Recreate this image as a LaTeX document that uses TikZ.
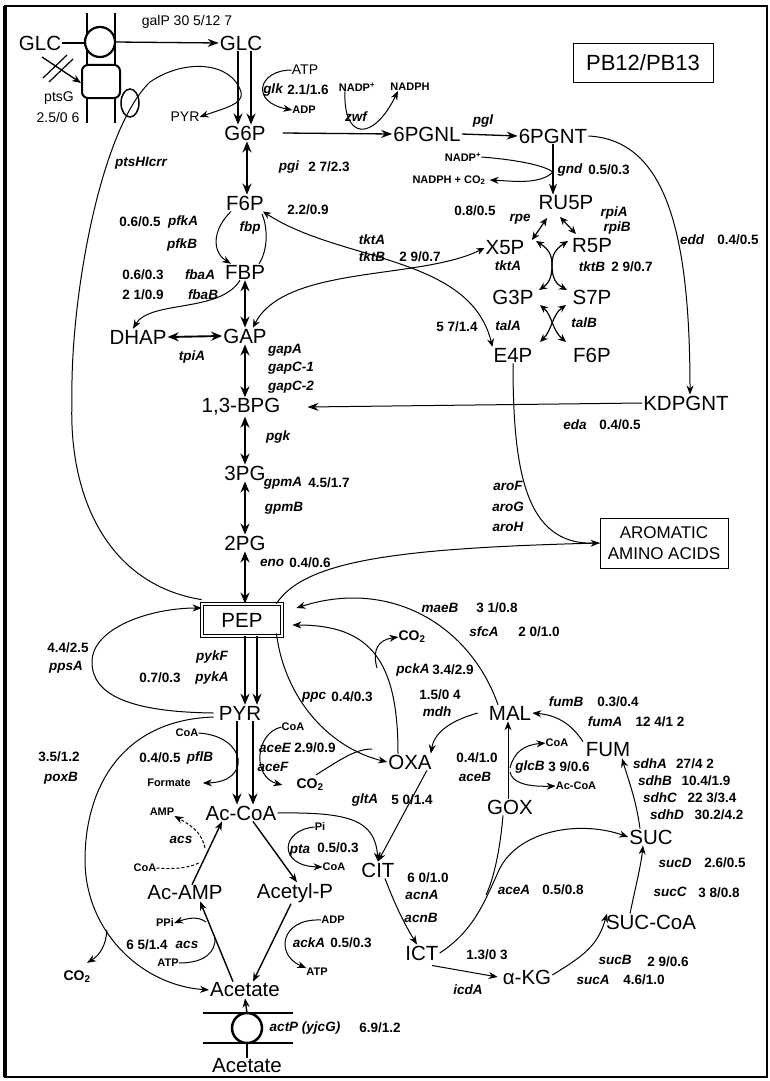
\documentclass[tikz,border=0pt]{standalone}
\usepackage{fontspec}
\setmainfont{Liberation Sans}
\usetikzlibrary{arrows.meta}
\begin{document}
\begin{tikzpicture}[x=1pt,y=-1pt,
 met/.style={font=\fontsize{20.5}{22}\selectfont, inner sep=1pt},
 reg/.style={font=\fontsize{14}{15}\selectfont, inner sep=0pt},
 gn/.style={font=\fontsize{13.5}{15}\selectfont\bfseries\itshape, inner sep=0pt},
 nm/.style={font=\fontsize{13.5}{15}\selectfont\bfseries, inner sep=0pt},
 sm/.style={font=\fontsize{11}{12}\selectfont\bfseries, inner sep=0pt},
 co/.style={font=\fontsize{14}{15}\selectfont\bfseries, inner sep=0pt},
 ar/.style={line width=1.9pt, -{Stealth[length=11pt,width=9pt]}},
 am/.style={line width=1.3pt, -{Stealth[length=11pt,width=8pt]}},
 dar/.style={line width=1.9pt, {Stealth[length=11pt,width=9pt]}-{Stealth[length=11pt,width=9pt]}},
 dsm/.style={line width=1.2pt, {Stealth[length=8pt,width=7pt]}-{Stealth[length=8pt,width=7pt]}},
 tn/.style={line width=1pt, -{Stealth[length=9pt,width=7pt]}},
 ln/.style={line width=1pt},
]
\useasboundingbox (0,0) rectangle (770,1081);
% frame
\draw[line width=1.5pt] (5,6) rectangle (767,1077);
\draw[line width=4pt] (5,6) -- (5,1077);

% ---------- metabolites ----------
\node[met] (glcout) at (40,43) {GLC};
\node[met] (glcin) at (241,43) {GLC};
\node[met] (g6p) at (245,133) {G6P};
\node[met] (pgnl) at (427,134) {6PGNL};
\node[met] (pgnt) at (553,136) {6PGNT};
\node[met] (f6p) at (245,203) {F6P};
\node[met] (ru5p) at (566,203) {RU5P};
\node[met] (x5p) at (505,248) {X5P};
\node[met] (r5p) at (592,246) {R5P};
\node[met] (g3p) at (513,297) {G3P};
\node[met] (s7p) at (592,297) {S7P};
\node[met] (e4p) at (513,355) {E4P};
\node[met] (f6pb) at (592,355) {F6P};
\node[met] (fbp) at (245,272) {FBP};
\node[met] (dhap) at (138,337) {DHAP};
\node[met] (gap) at (245,336) {GAP};
\node[met] (bpg) at (241,407) {1,3-BPG};
\node[met] (kdpgnt) at (686,403) {KDPGNT};
\node[met] (pg3) at (245,473) {3PG};
\node[met] (pg2) at (245,543) {2PG};
\node[met, draw, double, double distance=2pt, line width=0.8pt, minimum width=80pt, minimum height=32pt] (pep) at (242,620) {PEP};
\node[met] (pyr) at (240,713) {PYR};
\node[met] (accoa) at (241,813) {Ac-CoA};
\node[met] (acamp) at (185,893) {Ac-AMP};
\node[met] (acetylp) at (295,893) {Acetyl-P};
\node[met] (acetate) at (245,990) {Acetate};
\node[met] (acetate2) at (247,1066) {Acetate};
\node[met] (oxa) at (410,762) {OXA};
\node[met] (mal) at (510,713) {MAL};
\node[met] (fum) at (608,750) {FUM};
\node[met] (gox) at (510,807) {GOX};
\node[met] (cit) at (378,870) {CIT};
\node[met] (ict) at (422,953) {ICT};
\node[met] (akg) at (527,977) {α-KG};
\node[met] (succoa) at (651,922) {SUC-CoA};
\node[met] (suc) at (651,837) {SUC};
\node[reg] (pyrs) at (185,117) {PYR};
\node[draw, line width=0.8pt, font=\fontsize{22}{24}\selectfont, minimum width=140pt, minimum height=39pt, inner sep=2pt] (pb) at (643,63) {PB12/PB13};
\node[draw, line width=0.8pt, font=\fontsize{17}{21}\selectfont, align=center, minimum width=128pt, minimum height=50pt, inner sep=2pt] (arom) at (664,543) {AROMATIC\\AMINO ACIDS};

% ---------- GLC transport ----------
\draw[line width=2pt] (87,13) -- (87,123);
\draw[line width=2pt] (115,13) -- (115,123);
\draw[line width=2.2pt, fill=white] (100,42) circle (15);
\draw[line width=2pt, fill=white, rounded corners=6pt] (82,65) rectangle (120,98);
\draw[line width=1.5pt, fill=white] (130,103) ellipse (9 and 14);
\draw[line width=1.5pt] (glcout.east) -- (85,43);
\draw[am] (115,42) -- (glcin.west);
\coordinate (hatchs) at (42,57);
\draw[tn, line width=1.3pt] (hatchs) -- (81,83);
\draw[line width=1.2pt] (43,78) -- (67,55);
\draw[line width=1.2pt] (49,82) -- (73,59);
\node[reg] (galp) at (187,22) {galP 30 5/12 7};
\node[reg] (ptsg) at (59,98) {ptsG};
\node[reg] (ptsgn) at (58,117) {2.5/0 6};

% GLC -> G6P
\draw[ar] ([xshift=-3pt]glcin.south) -- ([xshift=-7pt]g6p.north);
\draw[ar] ([xshift=10pt]glcin.south) -- ([xshift=6pt]g6p.north);
% glk
\node[reg] (atp1) at (305,70) {ATP};
\node[sm] (adp1) at (304,110) {ADP};
\node[gn] (glk) at (273,90) {glk};
\node[nm] (glkn) at (308,90) {2.1/1.6};
\draw[tn] (atp1.west) .. controls (258,70) and (250,102) .. (adp1.west);
% ptsHIcrr
\draw[tn] ([yshift=4pt]pep.north west) .. controls (110,585) and (68,500) .. (72,400)
  .. controls (70,300) and (100,130) .. (150,82)
  .. controls (185,58) and (232,62) .. (241,92)
  .. controls (244,104) and (225,108) .. (pyrs.east);
\node[gn] (ptsh) at (141,163) {ptsHIcrr};

% G6P -> 6PGNL
\draw[am] ([xshift=16pt]g6p.east) -- (pgnl.west);
\node[sm] (nadp1) at (357,87) {NADP\textsuperscript{+}};
\node[sm] (nadph1) at (410,87) {NADPH};
\node[gn] (zwf) at (356,117) {zwf};
\draw[tn] ([xshift=-12pt]nadp1.south) .. controls (343,140) and (373,142) .. ([xshift=-12pt]nadph1.south);
% pgl
\draw[am] (pgnl.east) -- (pgnt.west);
\node[gn] (pgl) at (483,121) {pgl};
% gnd
\node[sm] (nadp2) at (463,157) {NADP\textsuperscript{+}};
\node[sm] (nadph2) at (449,180) {NADPH + CO\textsubscript{2}};
\draw[am] (pgnt.south) -- (pgnt.south |- ru5p.north);
\coordinate (gndj) at (553,172);
\draw[ln] (nadp2.east) .. controls (520,160) and (545,166) .. (gndj);
\draw[tn] (gndj) .. controls (540,185) and (512,181) .. ([xshift=4pt]nadph2.east);
\node[gn] (gnd) at (570,170) {gnd};
\node[nm] (gndn) at (609,170) {0.5/0.3};
% pgi
\draw[dar] ([xshift=2pt]g6p.south) -- ([xshift=2pt]f6p.north);
\node[gn] (pgi) at (289,167) {pgi};
\node[nm] (pgin) at (329,167) {2 7/2.3};

% RU5P branches
\draw[dsm] (547,218) -- (532,240);
\draw[dsm] (560,217) -- (576,234);
\node[gn] (rpe) at (520,219) {rpe};
\node[nm] (rpen) at (475,211) {0.8/0.5};
\node[gn] (rpia) at (614,213) {rpiA};
\node[gn] (rpib) at (617,228) {rpiB};
% edd
\draw[tn] (pgnt.east) .. controls (665,140) and (690,230) .. ([xshift=4pt]kdpgnt.north);
\node[gn] (edd) at (692,240) {edd};
\node[nm] (eddn) at (738,240) {0.4/0.5};

% tkt / tal X shapes
\draw[dsm] (536,241) .. controls (550,250) and (552,256) .. (552,266) .. controls (552,278) and (556,284) .. (567,290);
\draw[dsm] (568,241) .. controls (554,250) and (552,256) .. (552,266) .. controls (552,278) and (548,284) .. (539,290);
\draw[dsm] (540,305) .. controls (552,315) and (552,330) .. (566,342);
\draw[dsm] (566,305) .. controls (552,315) and (552,330) .. (540,342);
\node[gn] (tkta2) at (508,266) {tktA};
\node[gn] (tktb2) at (592,267) {tktB};
\node[nm] (tktb2n) at (632,267) {2 9/0.7};
\node[gn] (tala) at (508,326) {talA};
\node[gn] (talb) at (584,323) {talB};

% tkt long curves
\draw[dsm, line width=1pt] ([xshift=-2pt]f6p.south east) .. controls (340,262) and (470,255) .. (e4p.north west);
\draw[dsm, line width=1pt] ([xshift=8pt]gap.north) .. controls (285,265) and (420,280) .. (x5p.west);
\node[gn] (tkta) at (372,240) {tktA};
\node[gn] (tktb) at (372,257) {tktB};
\node[nm] (tktbn) at (420,257) {2 9/0.7};
\node[nm] (tktn2) at (308,210) {2.2/0.9};
\node[nm] (taln) at (457,327) {5 7/1.4};

% pfk / fbp
\draw[tn] ([xshift=-14pt]f6p.south) .. controls (212,230) and (212,252) .. ([xshift=-14pt]fbp.north);
\draw[ln] ([xshift=14pt]fbp.north) .. controls (268,250) and (268,228) .. (262,214);
\node[nm] (pfkn) at (140,222) {0.6/0.5};
\node[gn] (pfka) at (183,222) {pfkA};
\node[gn] (pfkb) at (182,245) {pfkB};
\node[gn] (fbpg) at (250,228) {fbp};
% fba
\draw[dar] (fbp.south) -- (gap.north);
\draw[tn] ([xshift=-5pt]fbp.south) .. controls (220,313) and (150,300) .. ([xshift=-5pt]dhap.north);
\node[nm] (fban) at (143,275) {0.6/0.3};
\node[gn] (fbaa) at (200,275) {fbaA};
\node[nm] (fbbn) at (143,295) {2 1/0.9};
\node[gn] (fbab) at (203,295) {fbaB};
% tpi
\draw[dar] (dhap.east) -- (gap.west);
\node[gn] (tpia) at (192,357) {tpiA};
% gap
\draw[dar] (gap.south) -- ([xshift=4pt]bpg.north);
\node[gn, anchor=west] (gapa) at (268,350) {gapA};
\node[gn, anchor=west] (gapc1) at (268,368) {gapC-1};
\node[gn, anchor=west] (gapc2) at (268,387) {gapC-2};
% eda
\draw[am, line width=1pt] (kdpgnt.west) -- ([xshift=26pt]bpg.east);
\node[gn] (eda) at (575,425) {eda};
\node[nm] (edan) at (620,425) {0.4/0.5};
% pgk
\draw[dar] ([xshift=4pt]bpg.south) -- (pg3.north);
\node[gn] (pgk) at (278,437) {pgk};
% gpm
\draw[dar] (pg3.south) -- (pg2.north);
\node[gn] (gpma) at (283,483) {gpmA};
\node[nm] (gpman) at (329,483) {4.5/1.7};
\node[gn] (gpmb) at (284,508) {gpmB};
% eno
\draw[dar] (pg2.south) -- ([xshift=3pt]pep.north);
\node[gn] (eno) at (272,563) {eno};
\node[nm] (enon) at (310,563) {0.4/0.6};

% aromatic
\draw[tn] (e4p.south) .. controls (513,470) and (525,545) .. (arom.west);
\draw[ln] ([xshift=-6pt]pep.north east) .. controls (305,560) and (400,548) .. (arom.west);
\node[gn] (arof) at (508,486) {aroF};
\node[gn] (arog) at (508,507) {aroG};
\node[gn] (aroh) at (508,527) {aroH};

% PEP -> PYR
\draw[ar] ([xshift=3pt]pep.south) -- ([xshift=5pt]pyr.north);
\draw[ar] ([xshift=15pt]pep.south) -- ([xshift=17pt]pyr.north);
\node[gn] (pykf) at (212,657) {pykF};
\node[gn] (pyka) at (212,678) {pykA};
\node[nm] (pykn) at (160,678) {0.7/0.3};
% ppsA
\draw[tn] ([xshift=-4pt]pyr.west) .. controls (130,712) and (92,695) .. (92,662)
  .. controls (92,628) and (150,608) .. ([yshift=12pt]pep.west);
\node[nm] (ppsn) at (68,648) {4.4/2.5};
\node[gn] (ppsa) at (66,667) {ppsA};
% poxB
\coordinate (poxc) at (107,930);
\draw[tn] ([shift={(-4pt,-4pt)}]pyr.west) .. controls (120,720) and (85,790) .. (85,860)
  .. controls (85,930) and (140,985) .. (acetate.west);
\node[co] (co2a) at (77,977) {CO\textsubscript{2}};
\draw[tn] (poxc) .. controls (106,945) and (100,955) .. ([shift={(10pt,8pt)}]co2a.north);
\node[nm] (poxn) at (59,757) {3.5/1.2};
\node[gn] (poxb) at (61,778) {poxB};

% PYR -> AcCoA
\draw[ar] ([xshift=-3pt]pyr.south) -- ([xshift=-4pt]accoa.north);
\draw[ar] ([xshift=13pt]pyr.south) -- ([xshift=12pt]accoa.north);
\node[sm] (coa1) at (187,733) {CoA};
\node[sm] (formate) at (169,783) {Formate};
\draw[tn] (coa1.east) .. controls (247,736) and (252,782) .. ([xshift=12pt]formate.east);
\node[nm] (pfln) at (160,758) {0.4/0.5};
\node[gn] (pflb) at (200,758) {pflB};
\node[sm] (coa2) at (293,727) {CoA};
\node[co] (co2b) at (310,785) {CO\textsubscript{2}};
\draw[tn] (coa2.west) .. controls (255,733) and (252,777) .. ([xshift=-14pt]co2b.west);
\node[gn] (acee) at (275,748) {aceE};
\node[nm] (aceen) at (315,748) {2.9/0.9};
\node[gn] (acef) at (273,767) {aceF};

% ppc
\draw[tn] ([shift={(-6pt,3pt)}]pep.south east) .. controls (285,700) and (330,748) .. (oxa.west);
\draw[ln] ([shift={(6pt,4pt)}]co2b.north) .. controls (340,760) and (355,749) .. (372,749);
\node[gn] (ppc) at (314,697) {ppc};
\node[nm] (ppcn) at (352,697) {0.4/0.3};
% pckA
\draw[tn] ([xshift=-12pt]oxa.north) .. controls (398,660) and (370,625) .. ([xshift=10pt,yshift=-5pt]pep.east);
\node[co] (co2c) at (412,637) {CO\textsubscript{2}};
\draw[tn] (377,668) .. controls (372,650) and (378,640) .. (co2c.west);
\node[gn] (pcka) at (413,670) {pckA};
\node[nm] (pckn) at (453,670) {3.4/2.9};
% maeB sfcA
\draw[tn] ([xshift=-12pt]mal.north) .. controls (470,625) and (390,578) .. ([xshift=14pt,yshift=12pt]pep.east);
\node[gn] (maeb) at (440,608) {maeB};
\node[nm] (maebn) at (497,608) {3 1/0.8};
\node[gn] (sfca) at (484,632) {sfcA};
\node[nm] (sfcan) at (539,632) {2 0/1.0};
% mdh
\draw[tn] ([xshift=-10pt]mal.west) .. controls (460,718) and (435,728) .. ([xshift=-2pt]oxa.north east);
\node[nm] (mdhn) at (440,695) {1.5/0 4};
\node[gn] (mdh) at (437,712) {mdh};

% gltA
\draw[tn] ([xshift=-6pt]oxa.south east) -- (cit.north);
\draw[tn] (accoa.east) .. controls (350,812) and (375,820) .. (cit.north);
\node[gn] (glta) at (365,800) {gltA};
\node[nm] (gltan) at (412,800) {5 0/1.4};
% acn
\draw[tn] ([xshift=7pt]cit.south) .. controls (395,905) and (405,925) .. ([xshift=-5pt]ict.north);
\node[nm] (acnn) at (428,878) {6 0/1.0};
\node[gn] (acna) at (422,895) {acnA};
\node[gn] (acnb) at (421,918) {acnB};
% icd
\draw[tn] ([shift={(10pt,-4pt)}]ict.south) -- ([xshift=-4pt]akg.west);
\node[nm] (icdn) at (487,955) {1.3/0 3};
\node[gn] (icda) at (468,990) {icdA};
% suc
\draw[tn] ([yshift=2pt]akg.east) .. controls (585,955) and (598,945) .. ([xshift=-44pt]succoa.north);
\draw[tn] ([xshift=-21pt]succoa.north) .. controls (636,885) and (641,865) .. ([xshift=-8pt]suc.south);
\node[gn] (sucb) at (615,960) {sucB};
\node[nm] (sucbn) at (668,962) {2 9/0.6};
\node[gn] (suca) at (593,980) {sucA};
\node[nm] (sucan) at (644,980) {4.6/1.0};
\node[gn] (sucd) at (675,863) {sucD};
\node[nm] (sucdn) at (725,863) {2.6/0.5};
\node[gn] (succ) at (670,892) {sucC};
\node[nm] (succn) at (719,893) {3 8/0.8};
% aceA
\coordinate (acej) at (486,895);
\draw[tn] (ict.east) .. controls (475,930) and (485,900) .. (500,868)
  .. controls (520,830) and (580,820) .. (suc.west);
\draw[ln] ([xshift=-7pt]gox.south) .. controls (500,850) and (494,878) .. (acej);
\node[gn] (acea) at (514,890) {aceA};
\node[nm] (acean) at (563,890) {0.5/0.8};
% aceB glcB
\coordinate (gb1) at (510,768);
\coordinate (gb2) at (510,772);
\draw[tn] ([xshift=-2pt]gox.north) -- ([xshift=-2pt]mal.south);
\node[sm] (coa3) at (557,743) {CoA};
\node[sm] (accoa3) at (576,786) {Ac-CoA};
\draw[tn] (gb1) .. controls (514,752) and (524,745) .. (coa3.west);
\draw[tn] (gb2) .. controls (512,782) and (525,787) .. (accoa3.west);
\node[nm] (aceb1n) at (477,758) {0.4/1.0};
\node[gn] (aceb) at (475,777) {aceB};
\node[gn] (glcb) at (530,767) {glcB};
\node[nm] (glcbn) at (569,767) {3 9/0.6};
% fum
\draw[tn] ([xshift=-25pt]fum.north) .. controls (570,722) and (555,715) .. (mal.east);
\node[gn] (fumb) at (566,702) {fumB};
\node[nm] (fumbn) at (618,702) {0.3/0.4};
\node[gn] (fuma) at (605,722) {fumA};
\node[nm] (fuman) at (660,722) {12 4/1 2};
\draw[tn] ([xshift=-11pt]suc.north) .. controls (636,800) and (630,785) .. ([xshift=14pt]fum.south);
\node[gn] (sdha) at (650,764) {sdhA};
\node[nm] (sdhan) at (695,764) {27/4 2};
\node[gn] (sdhb) at (655,781) {sdhB};
\node[nm] (sdhbn) at (706,781) {10.4/1.9};
\node[gn] (sdhc) at (660,798) {sdhC};
\node[nm] (sdhcn) at (712,798) {22 3/3.4};
\node[gn] (sdhd) at (667,815) {sdhD};
\node[nm] (sdhdn) at (719,815) {30.2/4.2};

% acetate branch: pta / ackA
\draw[tn, line width=1.4pt] ([xshift=12pt]accoa.south) -- ([xshift=2pt]acetylp.north);
\node[sm] (pi) at (320,827) {Pi};
\node[sm] (coa4) at (334,867) {CoA};
\draw[tn] (pi.west) .. controls (280,830) and (278,866) .. (coa4.west);
\node[gn] (pta) at (300,850) {pta};
\node[nm] (ptan) at (338,848) {0.5/0.3};
\draw[tn, line width=1.4pt] ([xshift=-4pt]acetylp.south) -- ([xshift=8pt]acetate.north);
\node[sm] (adp2) at (333,920) {ADP};
\node[sm] (atp2) at (317,972) {ATP};
\draw[tn] (adp2.west) .. controls (280,918) and (275,955) .. (atp2.north west);
\node[gn] (acka) at (309,943) {ackA};
\node[nm] (ackan) at (351,943) {0.5/0.3};
% acs
\draw[tn, line width=1.4pt] ([xshift=7pt]acamp.north) -- ([xshift=-19pt]accoa.south);
\node[sm] (amp) at (162,812) {AMP};
\node[sm] (coa5) at (145,868) {CoA};
\draw[ln, dash pattern=on 3pt off 2pt] (coa5.east) .. controls (180,870) and (195,866) .. (200,862);
\draw[tn, dash pattern=on 3pt off 2pt] (205,848) .. controls (202,835) and (196,828) .. (amp.south east);
\node[gn] (acs1) at (181,840) {acs};
\draw[tn, line width=1.4pt] ([xshift=-12pt]acetate.north) -- ([xshift=15pt]acamp.south);
\node[sm] (ppi) at (165,923) {PPi};
\node[sm] (atp3) at (168,963) {ATP};
\draw[tn] (206,922) .. controls (198,916) and (188,918) .. (ppi.east);
\draw[ln] (atp3.east) .. controls (205,963) and (216,952) .. (215,937);
\node[nm] (acs2n) at (147,945) {6 5/1.4};
\node[gn] (acs2) at (187,945) {acs};

% acetate transport
\draw[line width=1.5pt] (203,1013) -- (293,1013);
\draw[line width=1.5pt] (203,1043) -- (293,1043);
\draw[line width=2.5pt, fill=white] (247,1028) circle (15);
\draw[tn, line width=1.4pt] (247,1013) -- (acetate.south);
\draw[line width=1.4pt] (247,1043) -- (acetate2.north);
\node[gn] (actp) at (305,1028) {actP (yjcG)};
\node[nm] (actpn) at (380,1028) {6.9/1.2};
\end{tikzpicture}
\end{document}
